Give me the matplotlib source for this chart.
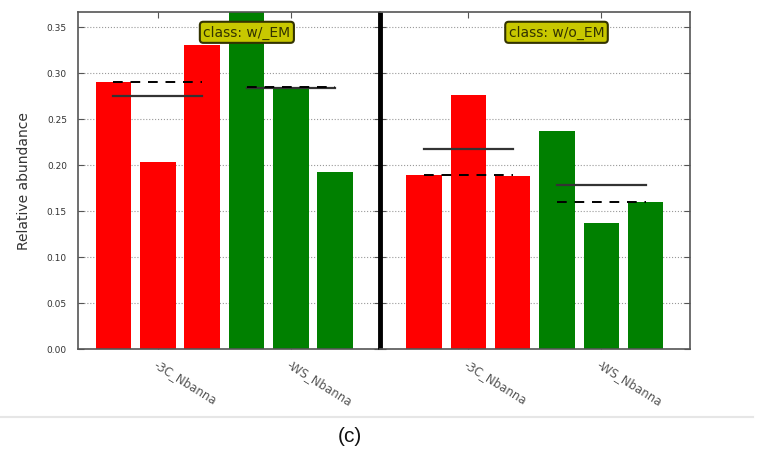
import matplotlib
matplotlib.use("Agg")
import matplotlib.pyplot as plt
import numpy as np

panels = ["class: w/_EM", "class: w/o_EM"]
tick_labels = ["-3C_Nbanna", "-WS_Nbanna"]
red_vals = [[0.290, 0.203, 0.330], [0.189, 0.276, 0.188]]
green_vals = [[0.372, 0.285, 0.192], [0.237, 0.137, 0.160]]
yticks = [0.00, 0.05, 0.10, 0.15, 0.20, 0.25, 0.30, 0.35]

fig = plt.figure(figsize=(7.61, 4.52), dpi=100)
gs = fig.add_gridspec(1, 2, width_ratios=[6.8, 7.0], wspace=0,
                      left=0.1025, right=0.9067, top=0.971, bottom=0.226)
axes = [fig.add_subplot(gs[0, 0]), fig.add_subplot(gs[0, 1])]
xlims = [(-0.8, 6.0), (-1.0, 6.0)]

for i, ax in enumerate(axes):
    reds = red_vals[i]
    greens = green_vals[i]
    xr = np.arange(3)
    xg = np.arange(3, 6)
    ax.bar(xr, reds, width=0.8, color="#ff0000", zorder=2)
    ax.bar(xg, greens, width=0.8, color="#008000", zorder=2)
    for xs, vals in ((xr, reds), (xg, greens)):
        ax.plot([xs[0], xs[-1]], [np.mean(vals)] * 2, color="#333333", lw=1.6, zorder=3)
        ax.plot([xs[0], xs[-1]], [np.median(vals)] * 2, color="black", lw=1.4,
                ls=(0, (5, 4)), zorder=3)
    ax.set_xlim(*xlims[i])
    ax.set_ylim(0, 0.366)
    ax.set_yticks(yticks)
    ax.grid(axis="y", ls=":", color="#999999", lw=0.8, zorder=0)
    ax.set_xticks([1, 4])
    ax.tick_params(direction="in", top=True, right=True, length=4, width=0.8,
                   color="#555555")
    ax.tick_params(axis="y", labelsize=6.5, labelcolor="#333333", pad=8)
    ax.tick_params(axis="x", pad=6)
    ax.set_xticklabels(tick_labels, rotation=-32, ha="left", va="top",
                       rotation_mode="anchor", fontsize=8.5, color="#555555")
    for s in ax.spines.values():
        s.set_color("#555555")
        s.set_linewidth(1.2)
    ax.text(0.56 if i == 0 else 0.57, 0.94, panels[i], transform=ax.transAxes,
            ha="center", va="center", fontsize=10, color="#333300",
            bbox=dict(boxstyle="round,pad=0.25", fc="#c8c800", ec="#333300", lw=1.5),
            zorder=5)

axes[1].tick_params(labelleft=False)
axes[0].spines["right"].set_visible(False)
axes[1].spines["left"].set_color("black")
axes[1].spines["left"].set_linewidth(3.5)
axes[1].spines["left"].set_capstyle("butt")
axes[0].set_ylabel("Relative abundance", fontsize=10, color="#333333", labelpad=11)

fig.add_artist(plt.Line2D([0.0, 0.99], [1 - 418 / 452] * 2, transform=fig.transFigure,
                          color="#e6e6e6", lw=1.5))
fig.text(350 / 761, 1 - 437 / 452, "(c)", ha="center", va="center", fontsize=15,
         family="Liberation Sans", color="#111111")

fig.savefig("out.png", dpi=100)
